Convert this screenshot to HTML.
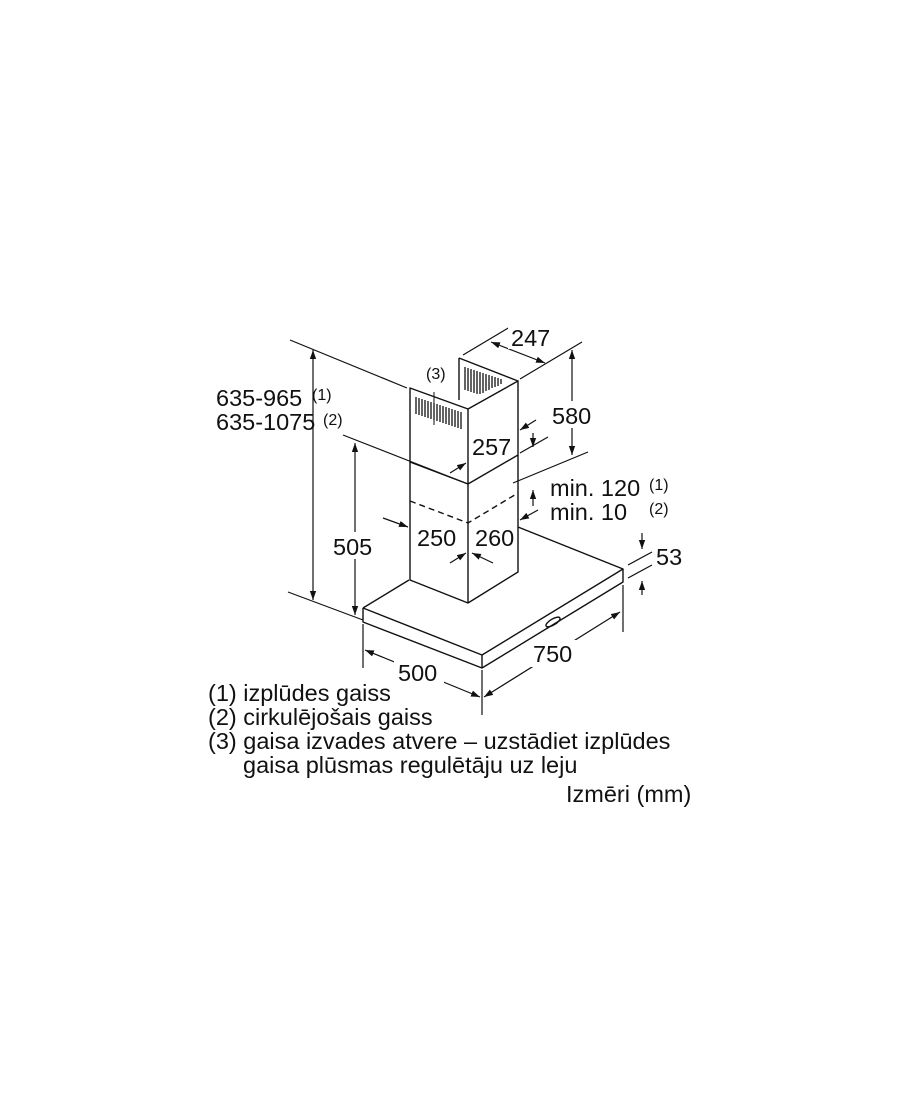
<!DOCTYPE html>
<html><head><meta charset="utf-8"><style>
html,body{margin:0;padding:0;background:#fff;}
svg{display:block;}
text{font-family:"Liberation Sans",Arial,sans-serif;fill:#111;}
</style></head><body>
<svg width="900" height="1112" viewBox="0 0 900 1112" xmlns="http://www.w3.org/2000/svg">
<defs>
<marker id="a" viewBox="0 0 10 10" refX="10" refY="5" markerWidth="9" markerHeight="9" orient="auto-start-reverse" markerUnits="userSpaceOnUse"><path d="M0,1.5 L10,5 L0,8.5 z" fill="#111"/></marker>
</defs>
<g stroke="#111" stroke-width="1.4" fill="none" stroke-linejoin="round">
<path d="M363,608 L409,580"/>
<path d="M518,527 L623,569 L482,655 L363,608"/>
<path d="M363,608 L363,622 L482,668 L623,582 L623,569"/>
<path d="M482,655 L482,668"/>
<ellipse cx="553" cy="622" rx="8" ry="3" transform="rotate(-31 553 622)"/>
<path d="M410,462 L410,580 L468,603 L518,572 L518,455"/>
<path d="M468,484 L468,603"/>
<path d="M410,501 L468,523 L518,493" stroke-dasharray="6,4"/>
<path d="M410,388 L410,462 L468,484 L518,455 L518,381 L468,409 L410,388 Z"/>
<path d="M468,409 L468,484"/>
<path d="M459,358 L459,400 M459,358 L518,381"/>
</g>
<g stroke="#111" stroke-width="1.3">
<path d="M416,397 L416,414 M419,398 L419,415 M422,399 L422,416 M425,400 L425,417 M428,401 L428,418 M431,402 L431,419 M434,403 L434,420 M437,404 L437,421 M440,405 L440,422 M443,406 L443,423 M446,407 L446,424 M449,408 L449,425 M452,409 L452,426 M455,410 L455,427 M458,411 L458,428 M461,412 L461,429"/>
<path d="M465,367 L465,390 M468,368 L468,391 M471,369 L471,392 M474,370 L474,393 M477,371 L477,394 M480,372 L480,394 M483,373 L483,393 M486,374 L486,391 M489,375 L489,390 M492,376 L492,388 M495,377 L495,387 M498,378 L498,386 M501,379 L501,384"/>
<path d="M434,392 L434,425" stroke-width="1"/>
</g>
<g stroke="#111" stroke-width="1.2" fill="none">
<path d="M290,340 L407,388"/>
<path d="M288,592 L363,620"/>
<path d="M313,350 L313,600" marker-start="url(#a)" marker-end="url(#a)"/>
<path d="M343,435 L468,484"/>
<path d="M355,443 L355,615" marker-start="url(#a)" marker-end="url(#a)"/>
<path d="M463,355 L510,327 M520,379 L582,342"/>
<path d="M491,342 L545,363" marker-start="url(#a)" marker-end="url(#a)"/>
<path d="M572,350 L572,455" marker-start="url(#a)" marker-end="url(#a)"/>
<path d="M513,483 L588,452"/>
<path d="M520,453 L548,437"/>
<path d="M533,433 L533,447" marker-end="url(#a)"/>
<path d="M536,420 L520,430" marker-end="url(#a)"/>
<path d="M450,473 L466,463" marker-end="url(#a)"/>
<path d="M533,506 L533,490" marker-end="url(#a)"/>
<path d="M538,510 L520,520" marker-end="url(#a)"/>
<path d="M383,518 L408,527" marker-end="url(#a)"/>
<path d="M450,563 L466,553" marker-end="url(#a)"/>
<path d="M493,563 L472,553" marker-end="url(#a)"/>
<path d="M628,565 L652,552 M628,578 L652,565"/>
<path d="M642,533 L642,549" marker-end="url(#a)"/>
<path d="M642,595 L642,581" marker-end="url(#a)"/>
<path d="M623,585 L623,632"/>
<path d="M482,670 L482,715"/>
<path d="M363,624 L363,668"/>
<path d="M365,650 L480,697" marker-start="url(#a)" marker-end="url(#a)"/>
<path d="M484,697 L620,612" marker-start="url(#a)" marker-end="url(#a)"/>
</g>
<rect x="394" y="656" width="50" height="27" fill="#fff"/>
<rect x="530" y="640" width="50" height="27" fill="#fff"/>
<rect x="508" y="324" width="50" height="25" fill="#fff"/>
<rect x="550" y="401" width="48" height="27" fill="#fff"/>
<rect x="330" y="532" width="50" height="27" fill="#fff"/>
<g font-size="23.5">
<text x="216" y="406">635-965</text>
<text x="216" y="430">635-1075</text>
<text x="511" y="346">247</text>
<text x="552" y="424">580</text>
<text x="472" y="455">257</text>
<text x="550" y="496">min. 120</text>
<text x="550" y="520">min. 10</text>
<text x="333" y="555">505</text>
<text x="417" y="546">250</text>
<text x="475" y="546">260</text>
<text x="656" y="565">53</text>
<text x="533" y="662">750</text>
<text x="398" y="681">500</text>
<text x="208" y="701">(1) izplūdes gaiss</text>
<text x="208" y="725">(2) cirkulējošais gaiss</text>
<text x="208" y="749">(3) gaisa izvades atvere – uzstādiet izplūdes</text>
<text x="243" y="773">gaisa plūsmas regulētāju uz leju</text>
<text x="566" y="802">Izmēri (mm)</text>
</g>
<g font-size="16">
<text x="312" y="400">(1)</text>
<text x="323" y="425">(2)</text>
<text x="426" y="379">(3)</text>
<text x="649" y="490">(1)</text>
<text x="649" y="514">(2)</text>
</g>
</svg>
</body></html>
